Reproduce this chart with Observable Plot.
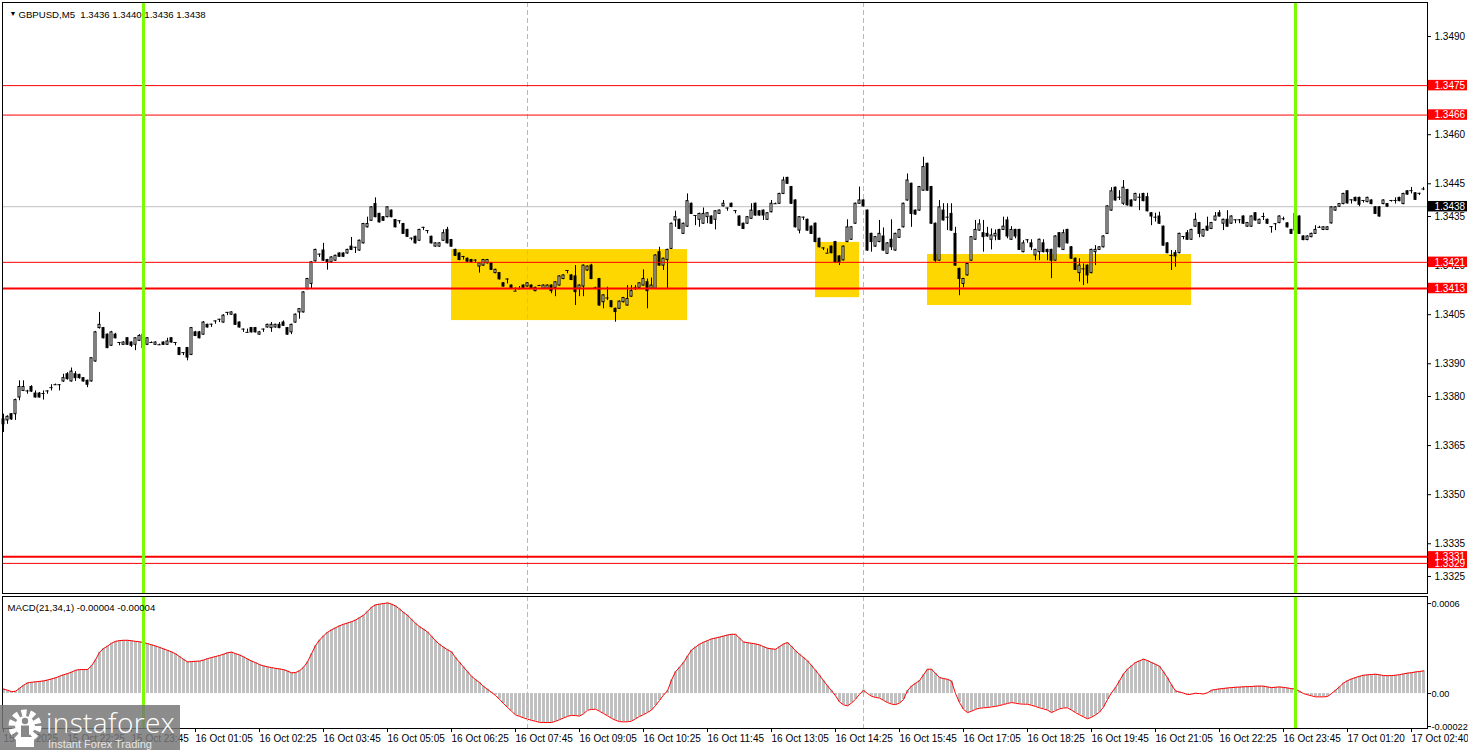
<!DOCTYPE html>
<html><head><meta charset="utf-8">
<script src="https://cdn.jsdelivr.net/npm/d3@7"></script>
<script src="https://cdn.jsdelivr.net/npm/@observablehq/plot@0.6"></script>
<style>
body{margin:0;background:#fff;}
#wrap{position:relative;width:1468px;height:750px;overflow:hidden;}
#wrap svg{display:block;}
.wm{position:absolute;left:0;top:705px;width:180px;height:45px;background:rgba(118,118,118,0.84);}
</style></head><body><div id="wrap"><div id="main"></div><div id="macd"></div>
<div class="wm">
<svg width="44" height="44" style="position:absolute;left:4px;top:2px" viewBox="0 0 44 44">
<circle cx="21" cy="19" r="13" fill="none" stroke="#fff" stroke-width="7" stroke-dasharray="5 3.2"/>
<circle cx="21" cy="19" r="10" fill="#fff"/>
<circle cx="21" cy="14" r="3.2" fill="#888"/>
<rect x="17" y="18.5" width="8" height="14" fill="#888"/>
<rect x="12" y="30" width="18" height="10" fill="#fff"/>
</svg>
<div style="position:absolute;left:46px;top:1px;font:300 28px 'Open Sans',sans-serif;letter-spacing:0.4px;color:#fff;line-height:32px">instaforex</div>
<div style="position:absolute;left:48px;top:33px;font:11px 'Liberation Sans',sans-serif;color:#e6e6e6;line-height:12px">Instant Forex Trading</div>
</div>
</div>
<script>
// ---- candles (GBPUSD M5) ----
const opens=[1.33730,1.33727,1.33746,1.33746,1.33797,1.33817,1.33817,1.33829,1.33809,1.33809,
1.33809,1.33817,1.33827,1.33836,1.33836,1.33846,1.33868,1.33846,1.33868,1.33866,
1.33856,1.33848,1.33846,1.33907,1.34009,1.34009,1.33989,1.33955,1.33989,1.33965,
1.33958,1.33978,1.33965,1.33958,1.33970,1.33989,1.33958,1.33965,1.33958,1.33958,
1.33965,1.33958,1.33978,1.33965,1.33948,1.33934,1.33948,1.33927,1.33996,1.33996,
1.33989,1.34019,1.34021,1.34031,1.34036,1.34026,1.34057,1.34050,1.34050,1.34026,
1.34006,1.33996,1.34009,1.34009,1.33989,1.34006,1.34011,1.34009,1.34011,1.34019,
1.34026,1.34009,1.33996,1.34026,1.34057,1.34057,1.34128,1.34144,1.34213,1.34235,
1.34246,1.34217,1.34210,1.34215,1.34237,1.34237,1.34237,1.34258,1.34256,1.34246,
1.34268,1.34317,1.34337,1.34388,1.34358,1.34348,1.34348,1.34368,1.34339,1.34337,
1.34327,1.34309,1.34284,1.34288,1.34276,1.34317,1.34307,1.34288,1.34258,1.34258,
1.34276,1.34309,1.34278,1.34248,1.34237,1.34228,1.34221,1.34217,1.34217,1.34197,
1.34200,1.34207,1.34207,1.34177,1.34177,1.34146,1.34159,1.34139,1.34122,1.34129,
1.34139,1.34136,1.34139,1.34122,1.34139,1.34129,1.34129,1.34139,1.34132,1.34139,
1.34159,1.34185,1.34170,1.34167,1.34129,1.34136,1.34185,1.34200,1.34132,1.34159,
1.34088,1.34101,1.34091,1.34068,1.34068,1.34088,1.34078,1.34105,1.34132,1.34132,
1.34139,1.34149,1.34129,1.34129,1.34241,1.34200,1.34217,1.34251,1.34338,1.34340,
1.34297,1.34319,1.34389,1.34353,1.34340,1.34328,1.34348,1.34350,1.34340,1.34358,
1.34381,1.34376,1.34389,1.34368,1.34350,1.34328,1.34328,1.34343,1.34389,1.34366,
1.34368,1.34340,1.34363,1.34389,1.34389,1.34419,1.34468,1.34440,1.34399,1.34307,
1.34348,1.34340,1.34319,1.34328,1.34282,1.34254,1.34238,1.34258,1.34272,1.34228,
1.34216,1.34272,1.34279,1.34328,1.34389,1.34399,1.34368,1.34297,1.34258,1.34272,
1.34289,1.34236,1.34279,1.34246,1.34285,1.34317,1.34399,1.34450,1.34368,1.34368,
1.34429,1.34511,1.34440,1.34328,1.34215,1.34368,1.34348,1.34358,1.34297,1.34190,
1.34144,1.34170,1.34215,1.34279,1.34307,1.34299,1.34297,1.34279,1.34289,1.34309,
1.34309,1.34338,1.34279,1.34309,1.34309,1.34241,1.34279,1.34268,1.34231,1.34241,
1.34268,1.34248,1.34248,1.34215,1.34299,1.34248,1.34309,1.34256,1.34221,1.34177,
1.34190,1.34200,1.34177,1.34241,1.34248,1.34256,1.34297,1.34368,1.34438,1.34409,
1.34389,1.34431,1.34399,1.34399,1.34409,1.34419,1.34409,1.34360,1.34348,1.34350,
1.34319,1.34268,1.34231,1.34238,1.34238,1.34289,1.34299,1.34279,1.34319,1.34330,
1.34289,1.34319,1.34312,1.34338,1.34360,1.34328,1.34340,1.34328,1.34340,1.34340,
1.34350,1.34319,1.34319,1.34360,1.34328,1.34350,1.34340,1.34319,1.34328,1.34330,
1.34343,1.34329,1.34309,1.34307,1.34350,1.34289,1.34278,1.34287,1.34297,1.34317,
1.34309,1.34309,1.34329,1.34368,1.34380,1.34388,1.34427,1.34401,1.34407,1.34407,
1.34399,1.34394,1.34399,1.34378,1.34378,1.34388,1.34388,1.34399,1.34399,1.34407,
1.34388,1.34427,1.34429,1.34421,1.34421,1.34434];
const highs=[1.33746,1.33741,1.33748,1.33792,1.33848,1.33848,1.33819,1.33833,1.33817,1.33812,
1.33817,1.33817,1.33836,1.33838,1.33836,1.33868,1.33873,1.33887,1.33876,1.33868,
1.33858,1.33850,1.33919,1.33999,1.34057,1.34011,1.33991,1.33999,1.33993,1.33965,
1.33967,1.33980,1.33967,1.33980,1.33989,1.33993,1.33980,1.33967,1.33967,1.33960,
1.33967,1.33978,1.33980,1.33965,1.33950,1.33934,1.33950,1.34011,1.33999,1.33999,
1.34029,1.34021,1.34021,1.34031,1.34036,1.34050,1.34057,1.34059,1.34052,1.34028,
1.34006,1.34006,1.34011,1.34011,1.33999,1.34006,1.34021,1.34026,1.34021,1.34026,
1.34031,1.34011,1.34021,1.34052,1.34069,1.34120,1.34161,1.34212,1.34250,1.34235,
1.34268,1.34219,1.34227,1.34232,1.34239,1.34239,1.34250,1.34286,1.34256,1.34278,
1.34329,1.34348,1.34380,1.34407,1.34360,1.34350,1.34380,1.34370,1.34341,1.34337,
1.34329,1.34311,1.34284,1.34290,1.34311,1.34317,1.34307,1.34290,1.34270,1.34270,
1.34309,1.34317,1.34280,1.34250,1.34239,1.34228,1.34223,1.34219,1.34217,1.34209,
1.34219,1.34219,1.34209,1.34189,1.34179,1.34148,1.34159,1.34141,1.34132,1.34136,
1.34141,1.34148,1.34141,1.34134,1.34140,1.34141,1.34141,1.34141,1.34151,1.34169,
1.34172,1.34185,1.34172,1.34200,1.34141,1.34202,1.34199,1.34204,1.34134,1.34161,
1.34111,1.34134,1.34093,1.34070,1.34092,1.34103,1.34139,1.34139,1.34139,1.34148,
1.34187,1.34159,1.34162,1.34233,1.34256,1.34223,1.34250,1.34330,1.34366,1.34342,
1.34330,1.34419,1.34391,1.34353,1.34360,1.34376,1.34362,1.34352,1.34368,1.34370,
1.34399,1.34376,1.34391,1.34368,1.34352,1.34330,1.34350,1.34389,1.34391,1.34368,
1.34370,1.34362,1.34399,1.34391,1.34421,1.34470,1.34470,1.34442,1.34401,1.34350,
1.34348,1.34342,1.34321,1.34330,1.34284,1.34254,1.34251,1.34260,1.34274,1.34230,
1.34260,1.34340,1.34319,1.34391,1.34440,1.34401,1.34370,1.34299,1.34289,1.34338,
1.34315,1.34270,1.34340,1.34299,1.34311,1.34391,1.34480,1.34452,1.34370,1.34442,
1.34531,1.34513,1.34442,1.34330,1.34399,1.34389,1.34389,1.34389,1.34317,1.34192,
1.34161,1.34207,1.34289,1.34338,1.34340,1.34338,1.34317,1.34312,1.34309,1.34311,
1.34348,1.34348,1.34319,1.34311,1.34311,1.34276,1.34279,1.34279,1.34250,1.34281,
1.34279,1.34250,1.34250,1.34291,1.34301,1.34309,1.34311,1.34258,1.34223,1.34221,
1.34205,1.34202,1.34250,1.34261,1.34258,1.34291,1.34383,1.34438,1.34440,1.34429,
1.34460,1.34433,1.34401,1.34421,1.34419,1.34421,1.34421,1.34362,1.34360,1.34363,
1.34321,1.34270,1.34246,1.34246,1.34299,1.34289,1.34307,1.34311,1.34360,1.34332,
1.34311,1.34348,1.34332,1.34362,1.34368,1.34342,1.34368,1.34352,1.34340,1.34340,
1.34352,1.34332,1.34352,1.34362,1.34342,1.34360,1.34342,1.34319,1.34328,1.34352,
1.34348,1.34331,1.34311,1.34360,1.34352,1.34291,1.34291,1.34299,1.34322,1.34320,
1.34319,1.34319,1.34380,1.34380,1.34390,1.34421,1.34429,1.34401,1.34409,1.34409,
1.34399,1.34409,1.34401,1.34380,1.34380,1.34401,1.34390,1.34399,1.34407,1.34409,
1.34421,1.34429,1.34439,1.34423,1.34421,1.34439];
const lows=[1.33690,1.33715,1.33727,1.33727,1.33787,1.33815,1.33807,1.33812,1.33795,1.33795,
1.33789,1.33807,1.33817,1.33834,1.33817,1.33843,1.33850,1.33844,1.33846,1.33853,
1.33844,1.33827,1.33844,1.33905,1.34006,1.33976,1.33946,1.33953,1.33976,1.33955,
1.33956,1.33956,1.33950,1.33940,1.33968,1.33929,1.33956,1.33963,1.33956,1.33956,
1.33956,1.33956,1.33963,1.33955,1.33925,1.33925,1.33909,1.33925,1.33983,1.33976,
1.33987,1.34009,1.34011,1.34021,1.34026,1.34024,1.34047,1.34048,1.34017,1.34009,
1.33996,1.33996,1.33994,1.33994,1.33987,1.33996,1.34009,1.33996,1.34009,1.34007,
1.34014,1.33987,1.33989,1.34024,1.34036,1.34055,1.34126,1.34128,1.34211,1.34225,
1.34213,1.34186,1.34208,1.34213,1.34225,1.34225,1.34235,1.34246,1.34237,1.34244,
1.34266,1.34315,1.34335,1.34346,1.34330,1.34335,1.34346,1.34346,1.34315,1.34327,
1.34295,1.34286,1.34276,1.34266,1.34274,1.34307,1.34297,1.34266,1.34256,1.34256,
1.34274,1.34266,1.34256,1.34228,1.34215,1.34217,1.34210,1.34208,1.34207,1.34177,
1.34198,1.34205,1.34185,1.34175,1.34156,1.34134,1.34144,1.34129,1.34122,1.34129,
1.34130,1.34134,1.34130,1.34120,1.34138,1.34127,1.34127,1.34114,1.34105,1.34137,
1.34157,1.34175,1.34154,1.34078,1.34105,1.34105,1.34183,1.34157,1.34130,1.34076,
1.34068,1.34093,1.34071,1.34027,1.34066,1.34086,1.34076,1.34103,1.34124,1.34130,
1.34137,1.34068,1.34127,1.34127,1.34198,1.34185,1.34129,1.34249,1.34317,1.34310,
1.34295,1.34317,1.34356,1.34322,1.34317,1.34326,1.34328,1.34326,1.34309,1.34356,
1.34379,1.34366,1.34377,1.34358,1.34320,1.34310,1.34326,1.34341,1.34351,1.34351,
1.34338,1.34338,1.34361,1.34387,1.34387,1.34417,1.34448,1.34387,1.34315,1.34297,
1.34338,1.34305,1.34295,1.34270,1.34254,1.34246,1.34238,1.34236,1.34208,1.34200,
1.34214,1.34270,1.34277,1.34326,1.34387,1.34379,1.34244,1.34241,1.34256,1.34270,
1.34244,1.34234,1.34246,1.34244,1.34283,1.34315,1.34397,1.34317,1.34354,1.34366,
1.34427,1.34427,1.34326,1.34210,1.34213,1.34336,1.34307,1.34305,1.34198,1.34108,
1.34132,1.34168,1.34213,1.34277,1.34305,1.34241,1.34287,1.34248,1.34276,1.34277,
1.34307,1.34282,1.34277,1.34282,1.34246,1.34239,1.34268,1.34246,1.34215,1.34215,
1.34239,1.34215,1.34160,1.34213,1.34254,1.34246,1.34266,1.34219,1.34185,1.34150,
1.34139,1.34144,1.34175,1.34200,1.34246,1.34254,1.34295,1.34366,1.34397,1.34399,
1.34384,1.34382,1.34379,1.34397,1.34368,1.34395,1.34364,1.34322,1.34333,1.34326,
1.34259,1.34236,1.34185,1.34195,1.34236,1.34279,1.34277,1.34277,1.34317,1.34285,
1.34287,1.34305,1.34310,1.34336,1.34348,1.34307,1.34317,1.34326,1.34328,1.34328,
1.34326,1.34317,1.34317,1.34336,1.34326,1.34338,1.34326,1.34299,1.34307,1.34328,
1.34337,1.34315,1.34295,1.34305,1.34295,1.34276,1.34276,1.34285,1.34295,1.34314,
1.34307,1.34307,1.34327,1.34366,1.34378,1.34386,1.34388,1.34388,1.34395,1.34380,
1.34391,1.34392,1.34386,1.34356,1.34348,1.34386,1.34378,1.34394,1.34388,1.34395,
1.34386,1.34415,1.34419,1.34399,1.34414,1.34429];
const closes=[1.33715,1.33738,1.33730,1.33789,1.33829,1.33829,1.33817,1.33815,1.33797,1.33797,
1.33809,1.33817,1.33827,1.33836,1.33836,1.33856,1.33853,1.33876,1.33856,1.33856,
1.33846,1.33836,1.33917,1.33996,1.34019,1.33978,1.33948,1.33996,1.33978,1.33965,
1.33965,1.33958,1.33955,1.33978,1.33985,1.33948,1.33978,1.33965,1.33965,1.33958,
1.33958,1.33968,1.33965,1.33965,1.33927,1.33934,1.33919,1.34009,1.33985,1.33978,
1.34026,1.34011,1.34021,1.34031,1.34036,1.34047,1.34057,1.34057,1.34019,1.34011,
1.34006,1.33996,1.33996,1.33996,1.33996,1.34006,1.34019,1.34019,1.34019,1.34009,
1.34016,1.33989,1.34019,1.34050,1.34067,1.34118,1.34159,1.34210,1.34248,1.34235,
1.34215,1.34210,1.34225,1.34230,1.34227,1.34227,1.34248,1.34248,1.34256,1.34276,
1.34327,1.34327,1.34378,1.34348,1.34332,1.34337,1.34378,1.34348,1.34317,1.34337,
1.34297,1.34288,1.34284,1.34268,1.34309,1.34317,1.34307,1.34268,1.34268,1.34268,
1.34299,1.34268,1.34258,1.34230,1.34217,1.34228,1.34212,1.34210,1.34217,1.34207,
1.34217,1.34217,1.34187,1.34187,1.34158,1.34136,1.34159,1.34131,1.34122,1.34129,
1.34132,1.34146,1.34132,1.34132,1.34139,1.34139,1.34139,1.34122,1.34149,1.34167,
1.34170,1.34185,1.34156,1.34119,1.34139,1.34200,1.34197,1.34159,1.34132,1.34078,
1.34109,1.34101,1.34073,1.34058,1.34090,1.34101,1.34098,1.34122,1.34132,1.34146,
1.34159,1.34122,1.34139,1.34231,1.34200,1.34221,1.34248,1.34328,1.34348,1.34312,
1.34328,1.34397,1.34358,1.34353,1.34358,1.34358,1.34360,1.34328,1.34366,1.34368,
1.34389,1.34376,1.34379,1.34368,1.34322,1.34312,1.34348,1.34368,1.34353,1.34353,
1.34353,1.34360,1.34389,1.34389,1.34419,1.34460,1.34450,1.34389,1.34317,1.34348,
1.34348,1.34307,1.34297,1.34272,1.34256,1.34254,1.34238,1.34238,1.34210,1.34210,
1.34258,1.34317,1.34317,1.34389,1.34399,1.34381,1.34246,1.34272,1.34287,1.34297,
1.34246,1.34268,1.34256,1.34297,1.34309,1.34389,1.34460,1.34358,1.34356,1.34440,
1.34501,1.34429,1.34328,1.34215,1.34378,1.34338,1.34348,1.34307,1.34200,1.34159,
1.34159,1.34205,1.34287,1.34309,1.34326,1.34287,1.34289,1.34292,1.34297,1.34279,
1.34319,1.34289,1.34309,1.34289,1.34248,1.34268,1.34279,1.34256,1.34248,1.34279,
1.34241,1.34241,1.34215,1.34289,1.34256,1.34299,1.34268,1.34221,1.34187,1.34200,
1.34190,1.34170,1.34248,1.34248,1.34256,1.34289,1.34381,1.34427,1.34399,1.34409,
1.34438,1.34384,1.34381,1.34419,1.34409,1.34397,1.34366,1.34350,1.34348,1.34328,
1.34261,1.34238,1.34231,1.34228,1.34297,1.34289,1.34279,1.34309,1.34340,1.34297,
1.34309,1.34307,1.34330,1.34350,1.34350,1.34340,1.34319,1.34350,1.34340,1.34340,
1.34328,1.34330,1.34350,1.34338,1.34340,1.34350,1.34328,1.34319,1.34328,1.34350,
1.34343,1.34317,1.34297,1.34358,1.34297,1.34278,1.34289,1.34297,1.34309,1.34317,
1.34317,1.34317,1.34378,1.34378,1.34388,1.34419,1.34390,1.34401,1.34397,1.34386,
1.34399,1.34407,1.34388,1.34358,1.34350,1.34399,1.34380,1.34399,1.34399,1.34397,
1.34419,1.34417,1.34429,1.34401,1.34421,1.34434];
// MACD(21,34,1) histogram, in units of 0.00001
const macdE5=[3.0,2.2,1.3,1.5,3.5,5.5,7.1,7.5,7.8,8.1,8.4,9.0,9.7,10.5,11.5,12.5,13.3,14.3,15.5,16.0,
16.0,16.0,18.5,22.5,27.5,30.0,31.6,33.5,34.8,35.3,35.5,35.5,35.2,34.8,34.5,34.0,33.3,32.5,31.7,30.8,
29.8,28.8,27.8,26.5,24.7,22.8,21.1,21.3,21.5,21.6,22.3,23.3,24.0,24.7,25.4,26.2,27.2,27.6,26.6,25.7,
24.5,23.0,21.7,20.6,19.3,18.4,17.8,17.3,16.8,16.4,16.0,15.0,13.8,14.0,15.2,17.5,21.1,26.5,32.0,35.6,
38.5,40.8,42.5,43.8,45.2,46.2,47.0,47.9,49.0,50.6,52.2,54.8,57.5,59.1,59.6,60.0,60.4,59.6,58.4,56.4,
54.1,52.2,49.5,46.8,44.6,42.9,41.1,38.2,35.2,32.8,30.9,29.2,27.8,24.0,20.8,17.7,14.6,11.5,9.3,7.3,
4.8,2.8,0.8,-1.3,-3.8,-6.7,-9.2,-11.7,-14.2,-15.2,-16.2,-17.1,-17.8,-18.5,-19.2,-19.3,-19.3,-19.3,-18.5,-17.4,
-16.3,-15.2,-14.5,-14.7,-15.0,-13.5,-11.1,-10.6,-10.4,-11.8,-13.3,-14.8,-16.5,-17.8,-18.7,-18.9,-18.8,-18.4,-16.8,-15.3,
-14.0,-12.6,-11.0,-8.0,-4.6,-1.0,1.8,9.0,14.5,17.5,20.7,24.9,29.0,31.0,32.9,34.2,35.3,36.4,37.0,37.6,
38.3,39.0,39.5,39.5,37.0,34.4,33.9,33.5,33.1,32.4,31.3,30.2,29.8,29.5,31.3,33.0,34.0,31.5,28.5,26.2,
24.0,21.8,18.7,15.5,12.2,8.6,5.1,2.0,-1.5,-5.6,-7.5,-8.2,-6.3,-3.8,-0.5,2.2,0.0,-1.8,-2.6,-3.0,
-4.5,-6.0,-7.0,-7.4,-6.3,-4.0,2.0,5.0,6.8,8.6,12.5,16.2,16.2,13.5,10.7,10.0,9.5,8.3,0.0,-6.0,
-10.5,-12.7,-11.8,-10.5,-9.8,-9.5,-9.3,-8.9,-8.5,-8.0,-7.3,-6.6,-6.0,-6.4,-6.9,-7.1,-7.1,-7.8,-8.6,-9.5,
-10.2,-11.0,-12.7,-11.4,-10.2,-9.6,-9.5,-11.0,-12.7,-14.2,-15.5,-16.8,-15.8,-14.2,-12.4,-9.0,-4.0,0.5,4.0,8.5,
13.0,16.3,18.5,20.7,21.8,22.9,22.0,20.7,19.5,18.2,14.5,10.5,5.8,1.8,1.0,0.3,-0.7,-0.4,0.2,0.0,
-0.3,0.5,2.2,2.7,3.1,3.4,3.7,4.0,4.2,4.3,4.5,4.6,4.7,4.9,5.0,4.9,4.4,4.0,4.2,4.4,
4.1,3.7,3.3,2.9,1.5,0.0,-0.8,-1.5,-2.2,-2.2,-2.2,-2.0,0.0,2.2,4.5,7.0,8.6,9.7,10.7,11.5,
12.2,12.5,12.7,12.9,12.5,12.0,11.9,12.0,12.2,12.6,13.1,13.6,13.9,14.4,14.7,15.1];

// ---- axes / annotations ----
const timeTickIdx=[0,16,32,48,64,80,96,112,128,144,160,176,192,208,224,240,256,272,288,304,320,336,352];
const timeLabels=["15 Oct 2025","15 Oct 22:25","15 Oct 23:45","16 Oct 01:05","16 Oct 02:25","16 Oct 03:45","16 Oct 05:05","16 Oct 06:25","16 Oct 07:45","16 Oct 09:05","16 Oct 10:25","16 Oct 11:45","16 Oct 13:05","16 Oct 14:25","16 Oct 15:45","16 Oct 17:05","16 Oct 18:25","16 Oct 19:45","16 Oct 21:05","16 Oct 22:25","16 Oct 23:45","17 Oct 01:20","17 Oct 02:40"];
const priceTicks=[1.3490,1.3460,1.3445,1.3435,1.3420,1.3405,1.3390,1.3380,1.3365,1.3350,1.3335,1.3325];
const macdTicks=[0.0006,0,-0.00022];
const macdTickLabels=["0.0006","0.00","-0.00022"];
const levelsThin=[1.3475,1.3466,1.3421,1.3329];
const levelsThick=[1.3413,1.3331];
const levelLabels=[1.3475,1.3466,1.3421,1.3413,1.3331,1.3329];
const currentPrice=1.3438;
const dayStartIdx=[35,323];
const sessionIdx=[131,215];
const zoneStart=[112,203,231];
const zoneEnd=[171,214,297];
const zoneTop=[1.34249,1.34271,1.34234];
const zoneBottom=[1.34032,1.34102,1.34078];
const titleText="GBPUSD,M5  1.3436 1.3440 1.3436 1.3438";
const macdTitle="MACD(21,34,1) -0.00004 -0.00004";

const candles=opens.map((o,i)=>({i,o,h:highs[i],l:lows[i],c:closes[i]}));
const macdRows=macdE5.map((v,i)=>({i,v:v*1e-5}));
const zones=zoneStart.map((s,k)=>({s,e:zoneEnd[k],t:zoneTop[k],b:zoneBottom[k]}));
const xDomain=[-0.25,356];
const yDomain=[1.33198,1.35004];
const mDomain=[-0.000233,0.000647];
const font="'Liberation Sans', Arial, sans-serif";
const green="#7CFC00";
const labH=0.00016;

const main=Plot.plot({
  width:1468,height:595,marginLeft:2,marginRight:41,marginTop:2,marginBottom:2,
  x:{domain:xDomain,axis:null},
  y:{domain:yDomain,axis:null},
  style:{fontFamily:font,fontSize:"10px",background:"#fff",overflow:"visible"},
  marks:[
    Plot.rect(zones,{x1:"s",x2:"e",y1:"b",y2:"t",fill:"#FFD700"}),
    Plot.ruleY([currentPrice],{stroke:"#c0c0c0"}),
    Plot.ruleX(sessionIdx,{stroke:green,strokeDasharray:"5,3"}),
    Plot.ruleX(candles,{x:"i",y1:"l",y2:"h",stroke:"#000"}),
    Plot.rect(candles.filter(d=>d.o!==d.c),{x1:d=>d.i-0.25,x2:d=>d.i+0.25,y1:"o",y2:"c",fill:d=>d.c>d.o?"#fff":"#000",stroke:"#000"}),
    Plot.ruleY(candles.filter(d=>d.o===d.c),{y:"o",x1:d=>d.i-0.4,x2:d=>d.i+0.4,stroke:"#000"}),
    Plot.ruleY(levelsThin,{stroke:"#ff0000",strokeWidth:1}),
    Plot.ruleY(levelsThick,{stroke:"#ff0000",strokeWidth:2}),
    Plot.ruleX(dayStartIdx,{stroke:green,strokeWidth:3}),
    Plot.frame({stroke:"#000"}),
    Plot.ruleY(priceTicks,{x1:xDomain[1],x2:xDomain[1]+1,stroke:"#000"}),
    Plot.text(priceTicks,{x:xDomain[1],y:d=>d,text:d=>d.toFixed(4),dx:7,textAnchor:"start",fill:"#000"}),
    Plot.rect(levelLabels,{x1:xDomain[1]+0.25,x2:xDomain[1]+10,y1:d=>d-labH,y2:d=>d+labH,fill:"#ff0000"}),
    Plot.text(levelLabels,{x:xDomain[1],y:d=>d,text:d=>d.toFixed(4),dx:7,textAnchor:"start",fill:"#fff"}),
    Plot.rect([currentPrice],{x1:xDomain[1]+0.25,x2:xDomain[1]+10,y1:d=>d-labH,y2:d=>d+labH,fill:"#000"}),
    Plot.text([currentPrice],{x:xDomain[1],y:d=>d,text:d=>d.toFixed(4),dx:7,textAnchor:"start",fill:"#fff"}),
    Plot.text(["\u25BC"],{frameAnchor:"top-left",dx:7,dy:9,fontSize:7,textAnchor:"start"}),
    Plot.text([titleText],{frameAnchor:"top-left",dx:16,dy:9,textAnchor:"start",fontSize:9.6,fill:"#000"})
  ]
});
document.getElementById("main").appendChild(main);

const macd=Plot.plot({
  width:1468,height:155,marginLeft:2,marginRight:41,marginTop:1,marginBottom:22,
  x:{domain:xDomain,axis:null},
  y:{domain:mDomain,axis:null},
  style:{fontFamily:font,fontSize:"10px",background:"#fff",overflow:"visible"},
  marks:[
    Plot.ruleX(macdRows,{x:"i",y1:0,y2:"v",stroke:"#c0c0c0",strokeWidth:3}),
    Plot.line(macdRows,{x:"i",y:"v",stroke:"#ff0000",strokeWidth:1}),
    Plot.ruleX(sessionIdx,{stroke:green,strokeDasharray:"5,3"}),
    Plot.ruleX(dayStartIdx,{stroke:green,strokeWidth:3}),
    Plot.frame({stroke:"#000"}),
    Plot.ruleY(macdTicks,{x1:xDomain[1],x2:xDomain[1]+1,stroke:"#000"}),
    Plot.text(macdTicks,{x:xDomain[1],y:d=>d,text:(d,i)=>macdTickLabels[i],dx:4,textAnchor:"start",fontSize:9.2,fill:"#000"}),
    Plot.ruleX(timeTickIdx,{y1:mDomain[0],y2:mDomain[0]-0.000027,stroke:"#000"}),
    Plot.text(timeTickIdx,{x:d=>d,y:mDomain[0],text:(d,i)=>timeLabels[i],dy:10,textAnchor:"start",fill:"#000"}),
    Plot.text([macdTitle],{frameAnchor:"top-left",dx:5,dy:8,textAnchor:"start",fontSize:9.6,fill:"#000"})
  ]
});
document.getElementById("macd").appendChild(macd);
</script>
</body></html>
